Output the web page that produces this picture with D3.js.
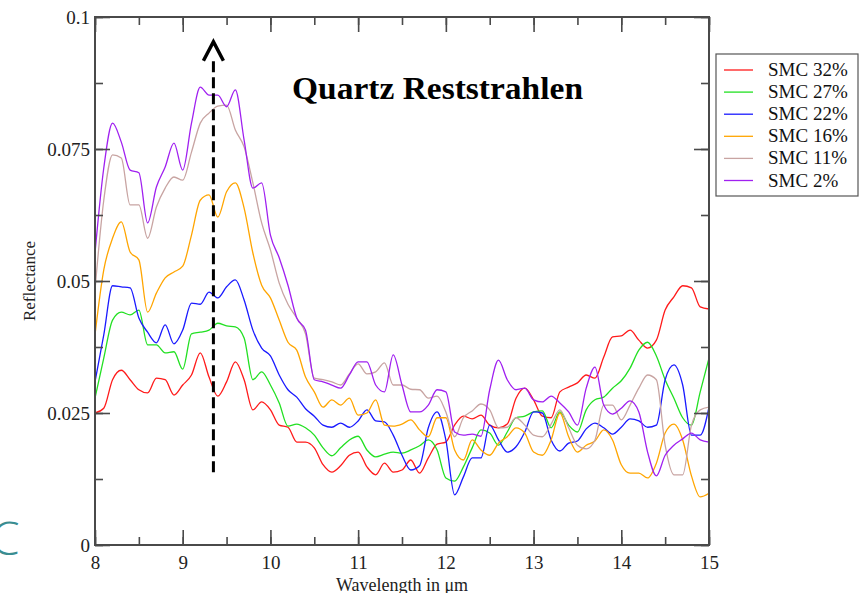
<!DOCTYPE html>
<html><head><meta charset="utf-8">
<script src="https://cdn.jsdelivr.net/npm/d3@7"></script>
<style>body{margin:0;background:#fff;} svg{display:block;}</style>
</head><body>
<svg id="c" width="862" height="593"></svg>
<script>
// ---------- data ----------
const wavelengths = d3.range(0, 71).map(i => +(8 + i * 0.1).toFixed(1)); // 8.0 .. 15.0 µm, sampled every 0.1
const seriesNames = ["SMC 32%", "SMC 27%", "SMC 22%", "SMC 16%", "SMC 11%", "SMC 2%"];
const seriesColors = ["#ff1a1a", "#22e022", "#1a1aff", "#ffa500", "#c8a4a2", "#a020f0"];
const smc32 = [0.0250,0.0259,0.0313,0.0331,0.0313,0.0294,0.0288,0.0316,0.0313,0.0284,
  0.0303,0.0322,0.0364,0.0318,0.0282,0.0309,0.0347,0.0313,0.0256,0.0271,
  0.0256,0.0227,0.0223,0.0195,0.0195,0.0184,0.0152,0.0138,0.0150,0.0170,
  0.0176,0.0148,0.0133,0.0155,0.0138,0.0142,0.0161,0.0136,0.0165,0.0191,
  0.0195,0.0227,0.0244,0.0239,0.0246,0.0227,0.0222,0.0229,0.0278,0.0297,
  0.0275,0.0244,0.0241,0.0290,0.0299,0.0307,0.0322,0.0316,0.0356,0.0394,
  0.0396,0.0407,0.0388,0.0373,0.0388,0.0445,0.0470,0.0491,0.0487,0.0451,0.0447];
const smc27 = [0.0278,0.0354,0.0426,0.0441,0.0436,0.0445,0.0379,0.0379,0.0364,0.0366,
  0.0333,0.0400,0.0403,0.0407,0.0420,0.0415,0.0413,0.0392,0.0313,0.0328,
  0.0303,0.0269,0.0225,0.0229,0.0222,0.0208,0.0184,0.0169,0.0184,0.0199,
  0.0206,0.0180,0.0167,0.0172,0.0176,0.0174,0.0180,0.0188,0.0199,0.0180,
  0.0127,0.0121,0.0148,0.0184,0.0218,0.0212,0.0189,0.0214,0.0241,0.0244,
  0.0252,0.0254,0.0222,0.0252,0.0227,0.0214,0.0256,0.0275,0.0280,0.0297,
  0.0311,0.0335,0.0369,0.0384,0.0358,0.0313,0.0278,0.0241,0.0227,0.0290,0.0354];
const smc22 = [0.0309,0.0398,0.0491,0.0489,0.0487,0.0430,0.0403,0.0383,0.0417,0.0381,
  0.0407,0.0458,0.0456,0.0479,0.0468,0.0489,0.0502,0.0464,0.0407,0.0373,
  0.0358,0.0322,0.0294,0.0280,0.0258,0.0244,0.0227,0.0223,0.0231,0.0223,
  0.0235,0.0256,0.0235,0.0233,0.0208,0.0170,0.0142,0.0150,0.0222,0.0252,
  0.0199,0.0095,0.0129,0.0165,0.0165,0.0227,0.0199,0.0176,0.0186,0.0214,
  0.0252,0.0250,0.0199,0.0178,0.0193,0.0197,0.0220,0.0231,0.0222,0.0210,
  0.0223,0.0239,0.0235,0.0223,0.0227,0.0313,0.0341,0.0303,0.0208,0.0208,0.0261];
const smc16 = [0.0398,0.0521,0.0581,0.0612,0.0555,0.0540,0.0441,0.0477,0.0506,0.0517,
  0.0528,0.0587,0.0653,0.0663,0.0621,0.0669,0.0686,0.0638,0.0553,0.0492,
  0.0468,0.0426,0.0384,0.0369,0.0318,0.0290,0.0261,0.0275,0.0265,0.0278,
  0.0246,0.0250,0.0275,0.0227,0.0225,0.0229,0.0237,0.0218,0.0205,0.0241,
  0.0241,0.0180,0.0161,0.0199,0.0180,0.0170,0.0193,0.0205,0.0222,0.0212,
  0.0176,0.0170,0.0199,0.0250,0.0205,0.0176,0.0189,0.0197,0.0218,0.0199,
  0.0152,0.0136,0.0136,0.0127,0.0155,0.0212,0.0229,0.0199,0.0131,0.0091,0.0098];
const smc11 = [0.0483,0.0653,0.0739,0.0733,0.0644,0.0644,0.0581,0.0640,0.0676,0.0697,
  0.0691,0.0744,0.0799,0.0818,0.0831,0.0833,0.0786,0.0754,0.0686,0.0610,
  0.0559,0.0496,0.0456,0.0430,0.0400,0.0316,0.0313,0.0309,0.0303,0.0324,
  0.0343,0.0324,0.0328,0.0345,0.0303,0.0303,0.0295,0.0294,0.0278,0.0282,
  0.0252,0.0205,0.0241,0.0254,0.0267,0.0256,0.0222,0.0223,0.0241,0.0227,
  0.0208,0.0205,0.0229,0.0256,0.0222,0.0189,0.0182,0.0199,0.0265,0.0265,
  0.0237,0.0265,0.0297,0.0322,0.0313,0.0189,0.0133,0.0133,0.0227,0.0256,0.0261];
const smc2 = [0.0553,0.0714,0.0799,0.0763,0.0710,0.0705,0.0610,0.0678,0.0716,0.0761,
  0.0710,0.0799,0.0867,0.0852,0.0852,0.0830,0.0862,0.0767,0.0676,0.0686,
  0.0587,0.0544,0.0492,0.0430,0.0407,0.0313,0.0309,0.0303,0.0297,0.0322,
  0.0347,0.0347,0.0303,0.0290,0.0360,0.0303,0.0252,0.0252,0.0265,0.0294,
  0.0290,0.0214,0.0208,0.0210,0.0206,0.0294,0.0350,0.0313,0.0294,0.0297,
  0.0275,0.0271,0.0282,0.0269,0.0252,0.0227,0.0297,0.0337,0.0265,0.0248,
  0.0259,0.0273,0.0252,0.0176,0.0131,0.0170,0.0189,0.0201,0.0212,0.0199,0.0195];
const seriesValues = [smc32, smc27, smc22, smc16, smc11, smc2];
const yTickValues = [0, 0.025, 0.05, 0.075, 0.1];
const yTickLabels = ["0", "0.025", "0.05", "0.075", "0.1"];
const xTickValues = [8, 9, 10, 11, 12, 13, 14, 15];
const titleText = "Quartz Reststrahlen";
const arrowX = 9.35, arrowYFrom = 0.0138, arrowYTo = 0.0957;

// ---------- layout ----------
const svg = d3.select("#c");
const L = 95, R = 709, T = 17, B = 545;
const x = d3.scaleLinear().domain([8, 15]).range([L, R]);
const y = d3.scaleLinear().domain([0, 0.1]).range([B, T]);
const axisColor = "#4a4a4a";
const serif = "'Liberation Serif', 'Times New Roman', serif";

// teal fragment at bottom-left
svg.append("text").attr("x", -9).attr("y", 555).attr("font-family", "'Open Sans', sans-serif")
  .attr("font-weight", 300).attr("font-size", 46).attr("fill", "#3a8d91").text("C");

// series lines
const line = d3.line().x((d, i) => x(wavelengths[i])).y(d => y(d)).curve(d3.curveMonotoneX);
const g = svg.append("g");
seriesValues.forEach((vals, k) => {
  g.append("path").datum(vals).attr("d", line).attr("fill", "none")
    .attr("stroke", seriesColors[k]).attr("stroke-width", 1.3).attr("stroke-linejoin", "round");
});

// axes (ticks inward, frame on all sides)
const minorX = d3.range(8, 15.01, 0.5), minorY = d3.range(0, 0.1001, 0.0125);
const ax = svg.append("g");
function tickSet(axisGen, transform) {
  const a = ax.append("g").attr("transform", transform).call(axisGen);
  a.selectAll("path.domain").remove();
  a.selectAll("line").attr("stroke", axisColor).attr("stroke-width", 1.6);
  return a;
}
// minor ticks
tickSet(d3.axisBottom(x).tickValues(minorX).tickSize(-8).tickFormat(""), `translate(0,${B})`);
tickSet(d3.axisTop(x).tickValues(minorX).tickSize(-8).tickFormat(""), `translate(0,${T})`);
tickSet(d3.axisLeft(y).tickValues(minorY).tickSize(-8).tickFormat(""), `translate(${L},0)`);
tickSet(d3.axisRight(y).tickValues(minorY).tickSize(-8).tickFormat(""), `translate(${R},0)`);
// major ticks with labels
const xb = tickSet(d3.axisBottom(x).tickValues(xTickValues).tickSize(-15).tickPadding(20).tickFormat(d3.format("d")), `translate(0,${B})`);
xb.selectAll("text").attr("font-family", serif).attr("font-size", 19).attr("fill", "#222").attr("dy", "0.2em");
tickSet(d3.axisTop(x).tickValues(xTickValues).tickSize(-15).tickFormat(""), `translate(0,${T})`);
const yl = tickSet(d3.axisLeft(y).tickValues(yTickValues).tickSize(-15).tickPadding(5).tickFormat((d, i) => yTickLabels[i]), `translate(${L},0)`);
yl.selectAll("text").attr("font-family", serif).attr("font-size", 19).attr("fill", "#222");
tickSet(d3.axisRight(y).tickValues(yTickValues).tickSize(-15).tickFormat(""), `translate(${R},0)`);
// frame
ax.append("rect").attr("x", L).attr("y", T).attr("width", R - L).attr("height", B - T)
  .attr("fill", "none").attr("stroke", axisColor).attr("stroke-width", 2);

// axis titles
svg.append("text").attr("transform", `translate(35,281) rotate(-90)`).attr("text-anchor", "middle")
  .attr("font-family", serif).attr("font-size", 17).attr("fill", "#222").text("Reflectance");
svg.append("text").attr("x", (L + R) / 2).attr("y", 591).attr("text-anchor", "middle")
  .attr("font-family", serif).attr("font-size", 18).attr("fill", "#222").text("Wavelength in \u03bcm");

// title
svg.append("text").attr("x", 292).attr("y", 99).attr("font-family", serif).attr("font-weight", "bold")
  .attr("font-size", 32).attr("textLength", 291).attr("lengthAdjust", "spacingAndGlyphs").attr("fill", "#000").text(titleText);

// dashed arrow
const axp = x(arrowX);
svg.append("line").attr("x1", axp).attr("x2", axp).attr("y1", y(arrowYFrom)).attr("y2", y(arrowYTo) + 18)
  .attr("stroke", "#000").attr("stroke-width", 3).attr("stroke-dasharray", "11,5");
svg.append("path").attr("d", `M${axp - 10},${y(arrowYTo) + 21} L${axp},${y(arrowYTo) + 2} L${axp + 10},${y(arrowYTo) + 21}`)
  .attr("fill", "none").attr("stroke", "#000").attr("stroke-width", 3.5);

// legend
const lg = svg.append("g").attr("transform", "translate(716,54)");
lg.append("rect").attr("width", 142).attr("height", 142).attr("fill", "#fff").attr("stroke", "#555").attr("stroke-width", 1.2);
seriesNames.forEach((n, k) => {
  const yy = 16 + k * 22.1;
  lg.append("line").attr("x1", 8).attr("x2", 37).attr("y1", yy).attr("y2", yy).attr("stroke", seriesColors[k]).attr("stroke-width", 1.3);
  lg.append("text").attr("x", 52).attr("y", yy + 6).attr("font-family", serif).attr("font-size", 19).attr("fill", "#111").text(n);
});
</script>
</body></html>
